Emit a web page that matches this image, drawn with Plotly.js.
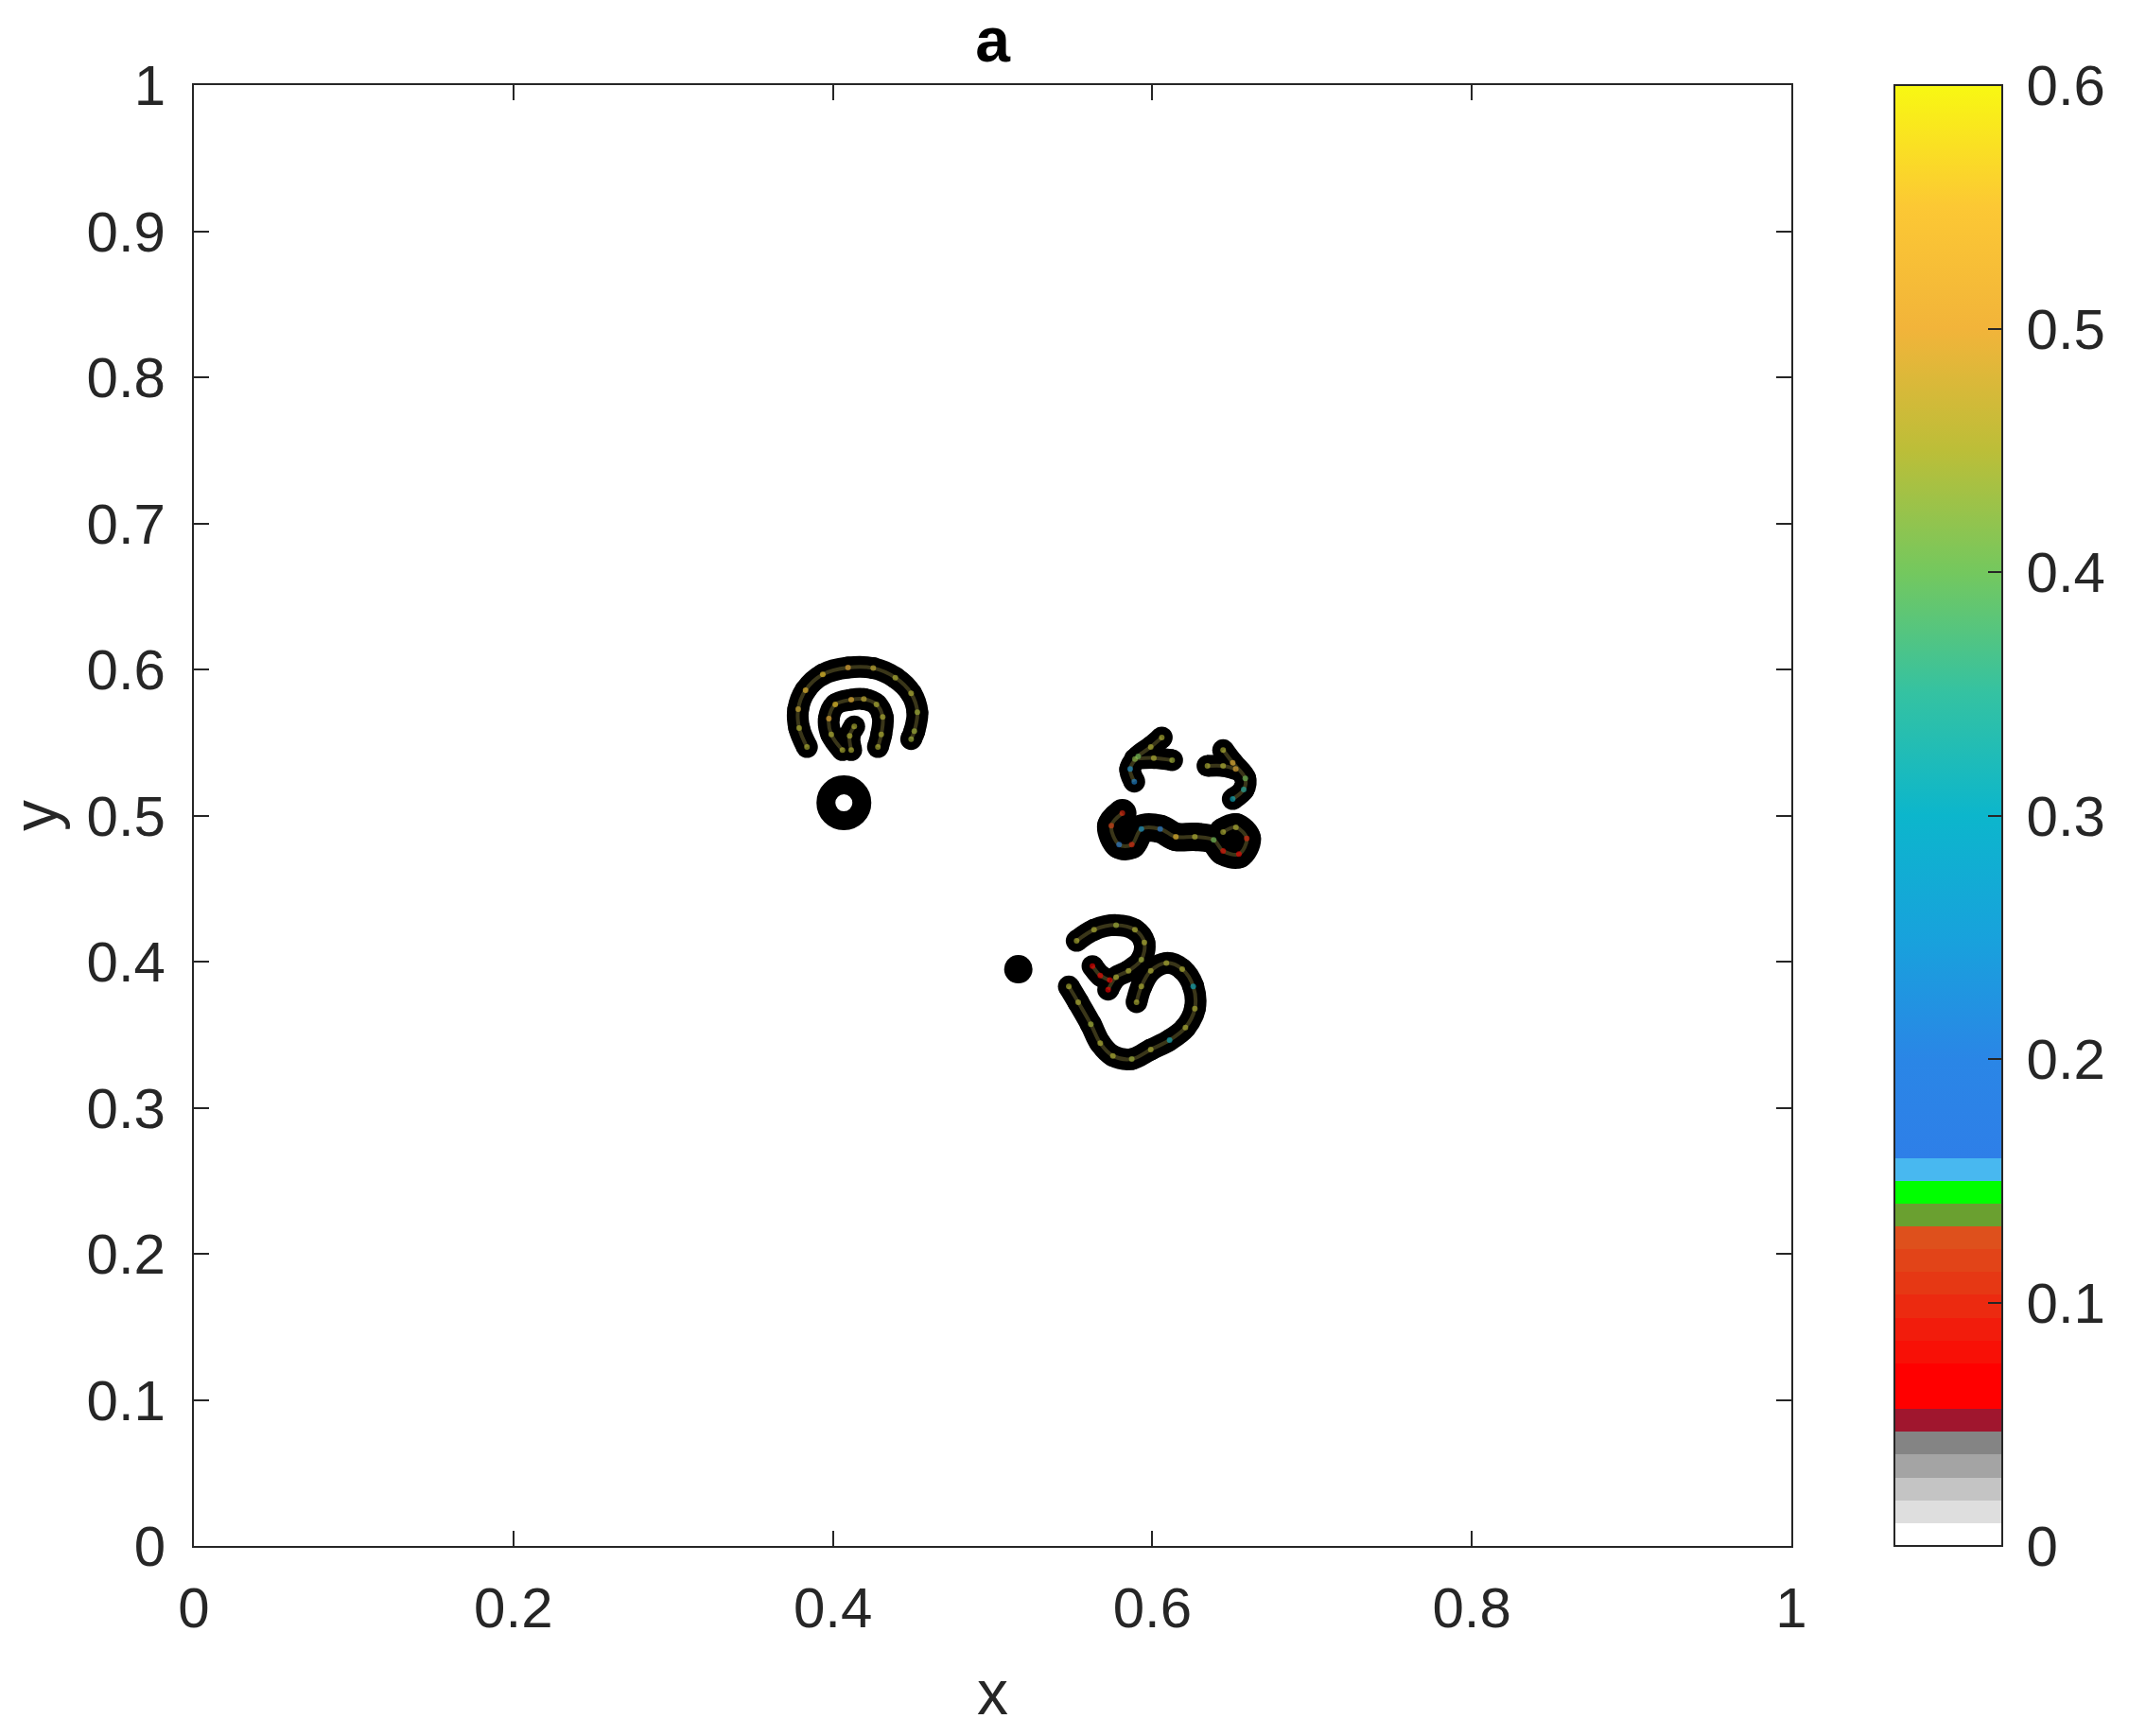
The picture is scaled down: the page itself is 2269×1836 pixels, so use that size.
<!DOCTYPE html>
<html>
<head>
<meta charset="utf-8">
<script src="https://cdn.plot.ly/plotly-3.0.1.min.js"></script>
<style>
  html, body { margin: 0; padding: 0; background: #fff; }
  #chart { width: 2269px; height: 1836px; }
</style>
</head>
<body>
<div id="chart"></div>
<script>
// stroke centre lines (x, y) and the colour value seen along them
const outerArcX = [0.3838, 0.3789, 0.3783, 0.3829, 0.3937, 0.4095, 0.4253, 0.4391, 0.4490, 0.4529, 0.4510, 0.4490];
const outerArcY = [0.5469, 0.5599, 0.5728, 0.5858, 0.5966, 0.6013, 0.6009, 0.5944, 0.5836, 0.5707, 0.5577, 0.5523];
const outerArcV = [0.45, 0.45, 0.48, 0.55, 0.56, 0.50, 0.47, 0.45, 0.45, 0.44, 0.44, 0.44];

const midArcX = [0.4060, 0.3990, 0.3975, 0.4015, 0.4115, 0.4194, 0.4273, 0.4312, 0.4303, 0.4282];
const midArcY = [0.5448, 0.5555, 0.5663, 0.5760, 0.5793, 0.5797, 0.5761, 0.5674, 0.5555, 0.5469];
const midArcV = [0.45, 0.45, 0.50, 0.56, 0.52, 0.47, 0.45, 0.45, 0.45, 0.45];

const stubX = [0.4115, 0.4105, 0.4134];
const stubY = [0.5448, 0.5545, 0.5610];
const stubV = [0.45, 0.45, 0.45];

const leftHookX = [0.5887, 0.5861, 0.5911, 0.5990, 0.6059];
const leftHookY = [0.5232, 0.5318, 0.5405, 0.5469, 0.5534];
const leftHookV = [0.22, 0.24, 0.40, 0.45, 0.45];

const leftArmX = [0.5891, 0.6009, 0.6124];
const leftArmY = [0.5387, 0.5394, 0.5379];
const leftArmV = [0.42, 0.45, 0.44];

const rightHookX = [0.6443, 0.6503, 0.6582, 0.6572, 0.6503];
const rightHookY = [0.5448, 0.5361, 0.5254, 0.5178, 0.5113];
const rightHookV = [0.45, 0.52, 0.40, 0.33, 0.30];

const rightArmX = [0.6345, 0.6443, 0.6522];
const rightArmY = [0.5340, 0.5340, 0.5318];
const rightArmV = [0.45, 0.45, 0.50];

const barX = [0.5812, 0.5743, 0.5792, 0.5871, 0.5931, 0.6049, 0.6147, 0.6266, 0.6384, 0.6443, 0.6542, 0.6591, 0.6523, 0.6443];
const barY = [0.5016, 0.4930, 0.4801, 0.4801, 0.4908, 0.4908, 0.4854, 0.4854, 0.4833, 0.4757, 0.4736, 0.4843, 0.4919, 0.4887];
const barV = [0.10, 0.12, 0.20, 0.10, 0.25, 0.20, 0.55, 0.45, 0.40, 0.08, 0.07, 0.10, 0.45, 0.45];

const topHookX = [0.5526, 0.5635, 0.5773, 0.5891, 0.5950, 0.5931, 0.5851, 0.5773, 0.5723];
const topHookY = [0.4142, 0.4218, 0.4250, 0.4218, 0.4131, 0.4013, 0.3937, 0.3894, 0.3808];
const topHookV = [0.45, 0.45, 0.44, 0.45, 0.45, 0.44, 0.45, 0.45, 0.06];

const knotX = [0.5625, 0.5674, 0.5733];
const knotY = [0.3970, 0.3905, 0.3873];
const knotV = [0.06, 0.06, 0.06];

const swirlX = [0.5477, 0.5536, 0.5615, 0.5674, 0.5753, 0.5871, 0.5990, 0.6108, 0.6207, 0.6266, 0.6256, 0.6187, 0.6088, 0.5990, 0.5931, 0.5901];
const swirlY = [0.3830, 0.3722, 0.3571, 0.3441, 0.3355, 0.3333, 0.3398, 0.3463, 0.3549, 0.3678, 0.3830, 0.3948, 0.3991, 0.3937, 0.3830, 0.3722];
const swirlV = [0.45, 0.45, 0.44, 0.45, 0.45, 0.44, 0.45, 0.30, 0.45, 0.45, 0.30, 0.45, 0.45, 0.45, 0.45, 0.45];

const ringX = [0.4069];
const ringY = [0.5087];
const dotX = [0.5161];
const dotY = [0.3948];

const cbTicks = [0, 0.1, 0.2, 0.3, 0.4, 0.5, 0.6];
const xTicks = [0, 0.2, 0.4, 0.6, 0.8, 1];
const yTicks = [0, 0.1, 0.2, 0.3, 0.4, 0.5, 0.6, 0.7, 0.8, 0.9, 1];

// 64-level colormap: custom low end, parula-like top
const lowBands = ['#ffffff', '#dedede', '#c4c4c4', '#a4a4a4', '#848484', '#a0162e',
  '#ff0000', '#ff0000', '#f81006', '#f21c0c', '#ec2a10', '#e63814', '#e24418', '#de501c',
  '#6aa030', '#00ff00', '#48b8f0'];
const topStops = [[0.159, '#2e7fe8'], [0.2, '#2a86e6'], [0.25, '#18a2dc'], [0.3, '#0cb6cc'],
  [0.35, '#34c2a2'], [0.4, '#74c85e'], [0.45, '#bcbe38'], [0.5, '#f2b43a'],
  [0.55, '#fcc834'], [0.6, '#f8f812']];
const colorscale = [];
lowBands.forEach((c, i) => {
  colorscale.push([i / 64, c]);
  colorscale.push([(i + 1) / 64, c]);
});
topStops.forEach(([v, c]) => colorscale.push([Math.max(v / 0.6, 17 / 64), c]));

function joinStrokes(list) {
  const out = { x: [], y: [], v: [] };
  list.forEach(([xs, ys, vs]) => {
    out.x.push(...xs, null);
    out.y.push(...ys, null);
    out.v.push(...vs, null);
  });
  return out;
}

const thin = joinStrokes([
  [outerArcX, outerArcY, outerArcV], [midArcX, midArcY, midArcV], [stubX, stubY, stubV],
  [leftHookX, leftHookY, leftHookV], [leftArmX, leftArmY, leftArmV],
  [rightHookX, rightHookY, rightHookV], [rightArmX, rightArmY, rightArmV],
  [topHookX, topHookY, topHookV], [knotX, knotY, knotV], [swirlX, swirlY, swirlV]
]);
const fat = joinStrokes([[barX, barY, barV]]);
const all = joinStrokes([[thin.x, thin.y, thin.v], [fat.x, fat.y, fat.v]]);

const axisColor = '#262626';
const family = 'Arial, "Liberation Sans", sans-serif';
const font = { family: family, size: 60, color: axisColor };

const traces = [
  {
    x: thin.x, y: thin.y, type: 'scatter', mode: 'lines+markers', hoverinfo: 'skip',
    line: { color: '#000', width: 23, shape: 'spline' },
    marker: { color: '#000', size: 23 }
  },
  {
    x: fat.x, y: fat.y, type: 'scatter', mode: 'lines+markers', hoverinfo: 'skip',
    line: { color: '#000', width: 30, shape: 'spline' },
    marker: { color: '#000', size: 30 }
  },
  {
    x: all.x, y: all.y, type: 'scatter', mode: 'lines', hoverinfo: 'skip',
    line: { color: '#3a3619', width: 4, shape: 'spline' }
  },
  {
    x: all.x, y: all.y, type: 'scatter', mode: 'markers',
    marker: {
      color: all.v, colorscale: colorscale, cmin: 0, cmax: 0.6, size: 6, opacity: 0.6,
      showscale: true,
      colorbar: {
        x: 1.0645, xanchor: 'left', y: 0.5, yanchor: 'middle', len: 1, lenmode: 'fraction',
        thickness: 114, thicknessmode: 'pixels', xpad: 0, ypad: 0,
        outlinewidth: 2, outlinecolor: axisColor,
        tickmode: 'array', tickvals: cbTicks, ticktext: cbTicks.map(t => '\u2009' + t),
        ticks: 'inside', ticklen: 16, tickcolor: axisColor, tickwidth: 2,
        tickfont: font
      }
    }
  },
  {
    x: ringX, y: ringY, type: 'scatter', mode: 'markers', hoverinfo: 'skip',
    marker: { symbol: 'circle-open', size: 38, color: '#000', line: { width: 20, color: '#000' } }
  },
  {
    x: dotX, y: dotY, type: 'scatter', mode: 'markers', hoverinfo: 'skip',
    marker: { symbol: 'circle', size: 30, color: '#000' }
  }
];

const axisBase = {
  range: [0, 1], tickmode: 'array', ticks: 'inside', ticklen: 16, tickwidth: 2,
  tickcolor: axisColor, showline: true, linecolor: axisColor, linewidth: 2,
  mirror: 'ticks', showgrid: false, zeroline: false, tickfont: font, fixedrange: true
};

const layout = {
  width: 2269, height: 1836,
  margin: { l: 205, r: 375, t: 90, b: 201 },
  paper_bgcolor: '#fff', plot_bgcolor: '#fff',
  showlegend: false,
  title: {
    text: 'a', font: { family: family, size: 66, color: '#000', weight: 'bold' },
    x: 0.5, xref: 'paper', xanchor: 'center', y: 1 - 42 / 1836, yref: 'container', yanchor: 'middle'
  },
  xaxis: Object.assign({}, axisBase, {
    tickvals: xTicks, ticktext: xTicks.map(String), ticklabelstandoff: 12,
    title: { text: 'x', font: { family: family, size: 66, color: axisColor }, standoff: 34 }
  }),
  yaxis: Object.assign({}, axisBase, {
    tickvals: yTicks, ticktext: yTicks.map(String), ticklabelstandoff: 16,
    title: { text: 'y', font: { family: family, size: 66, color: axisColor }, standoff: 11 }
  })
};

Plotly.newPlot('chart', traces, layout, { displayModeBar: false, staticPlot: true });
</script>
</body>
</html>
